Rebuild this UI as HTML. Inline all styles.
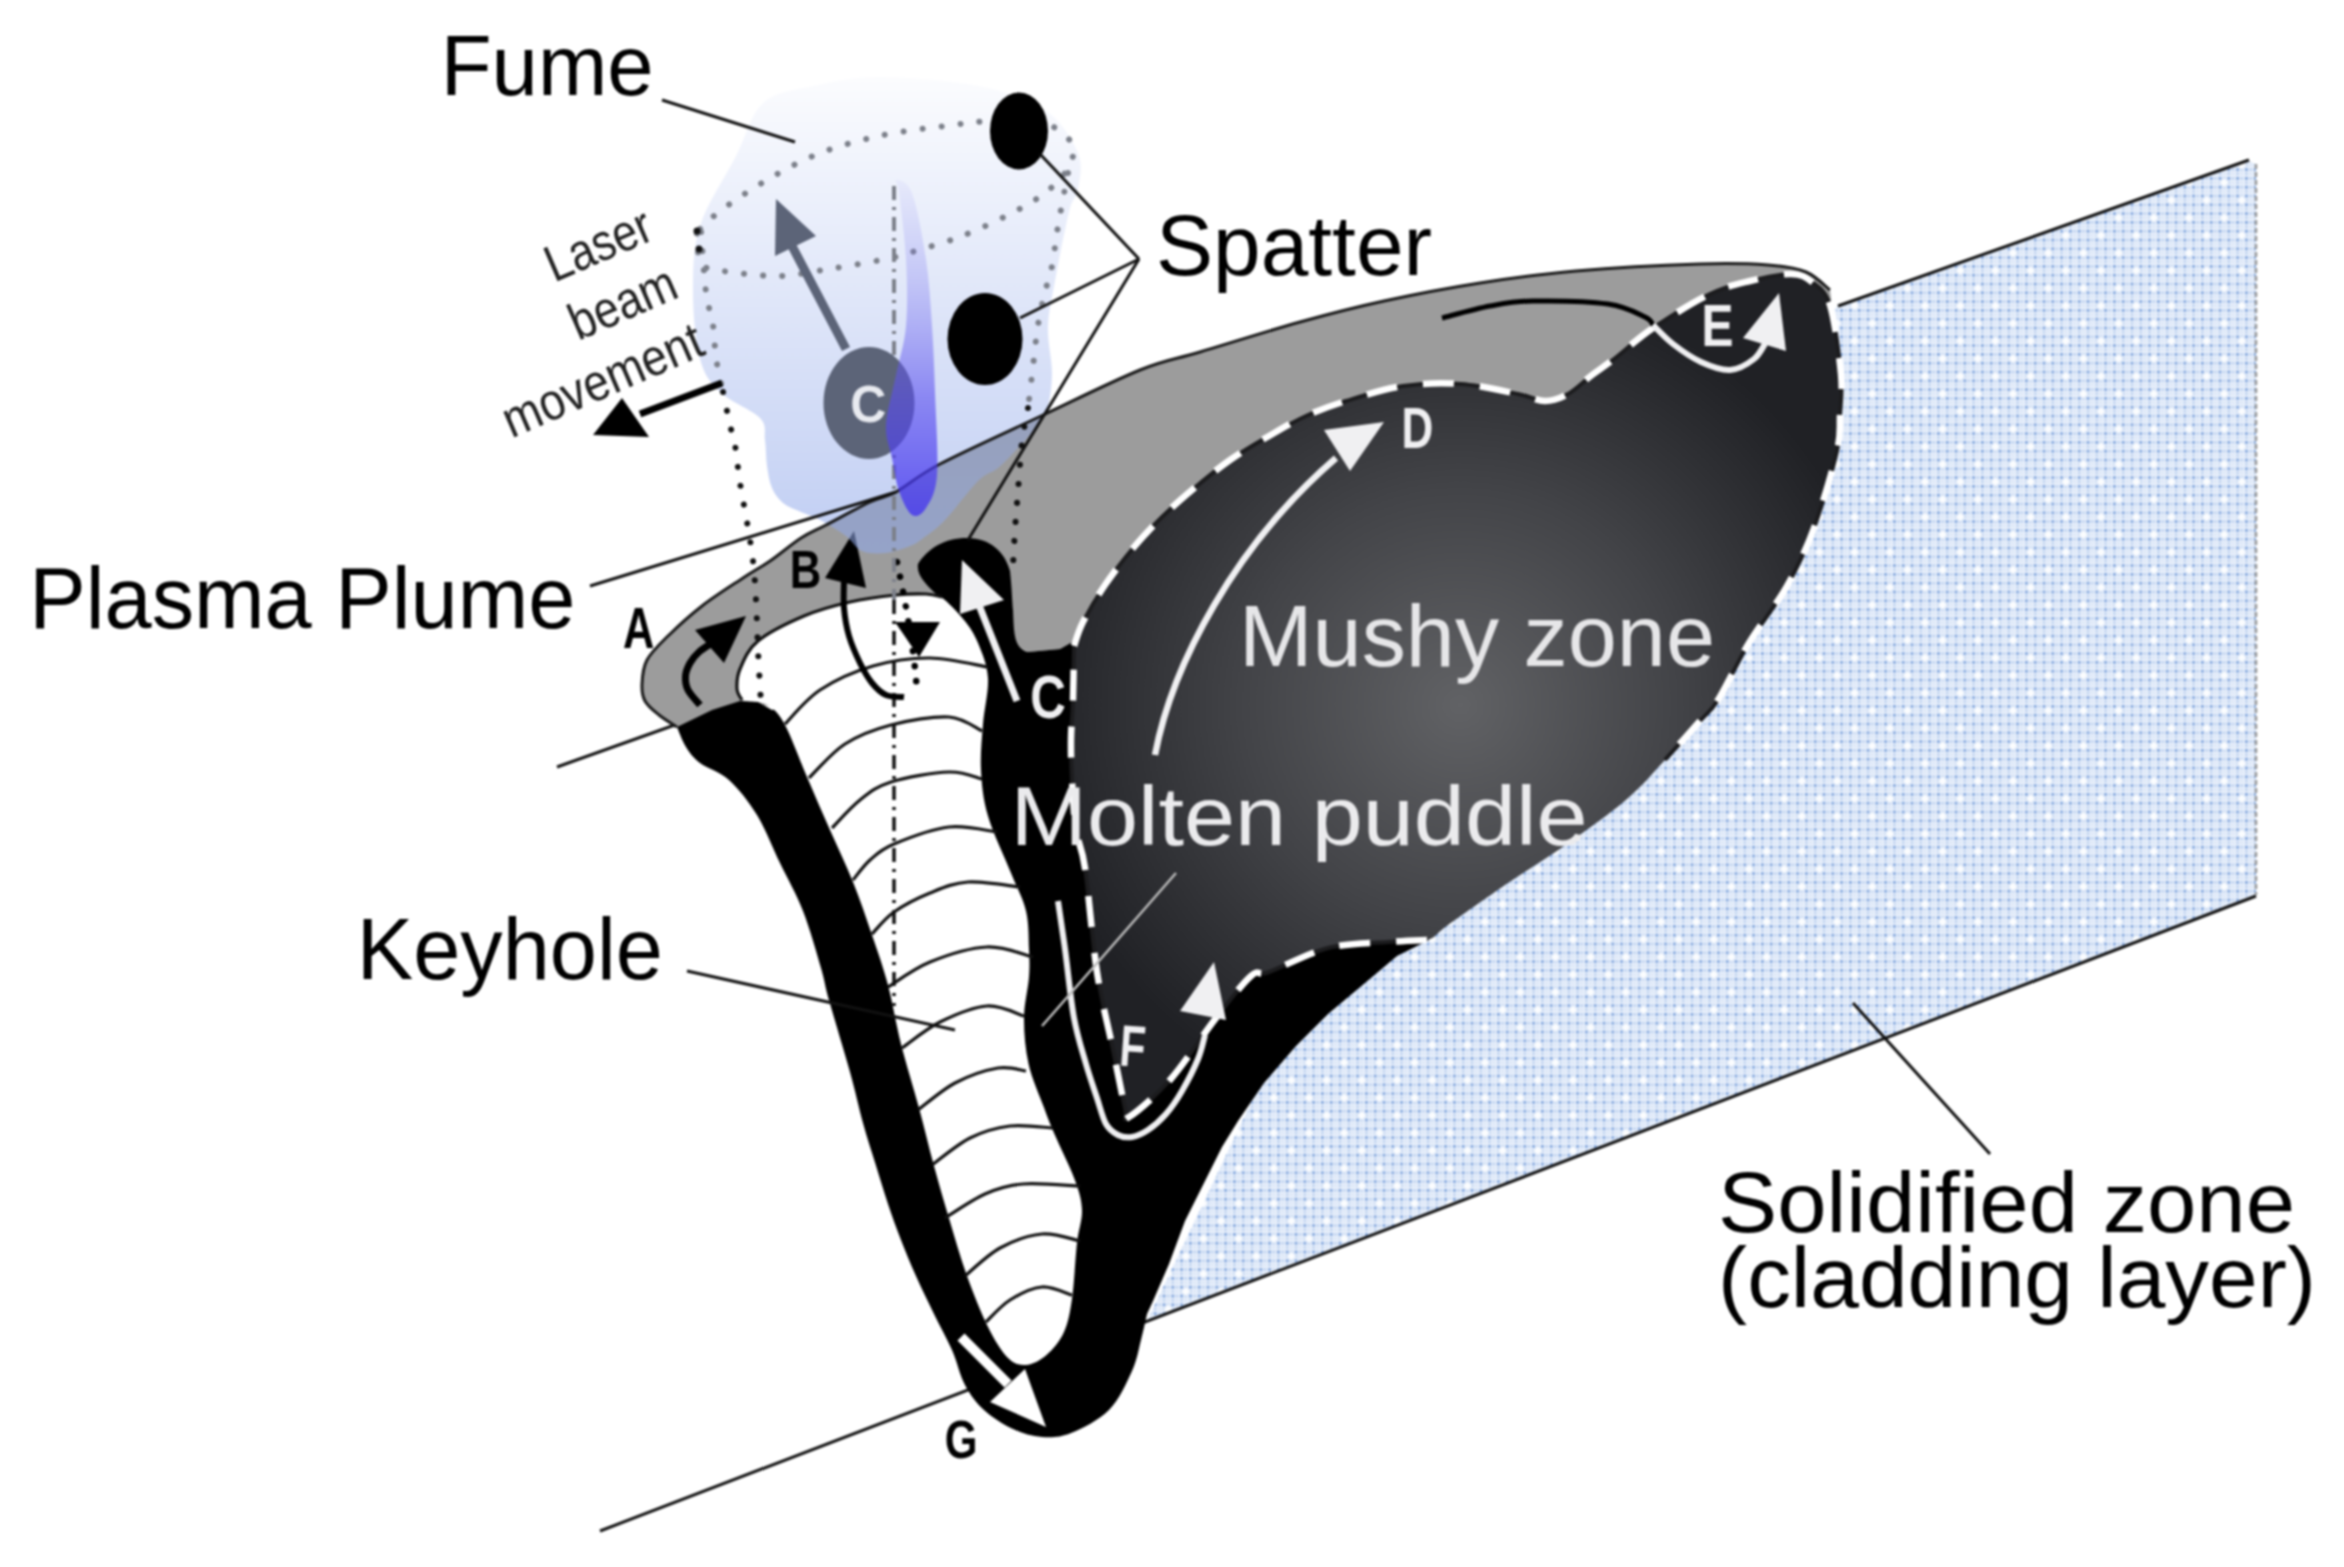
<!DOCTYPE html>
<html><head><meta charset="utf-8"><style>
html,body{margin:0;padding:0;background:#fff;width:2344px;height:1567px;overflow:hidden}
svg{display:block;filter:blur(0.8px)}
text{font-family:"Liberation Sans",sans-serif}
</style></head><body>
<svg width="2344" height="1567" viewBox="0 0 2344 1567">
<defs>
<pattern id="dots" x="0" y="0" width="35.2" height="35.2" patternUnits="userSpaceOnUse"><rect width="35.2" height="35.2" fill="#e9f0fb"/><rect x="0.9" y="0.9" width="3" height="3" fill="#86a9de"/><rect x="5.5" y="1.3" width="2.2" height="2.2" fill="#aac4ea"/><rect x="1.3" y="5.5" width="2.2" height="2.2" fill="#aac4ea"/><rect x="5.6" y="5.6" width="2" height="2" fill="#d2e0f4"/><rect x="9.7" y="0.9" width="3" height="3" fill="#86a9de"/><rect x="14.3" y="1.3" width="2.2" height="2.2" fill="#aac4ea"/><rect x="10.1" y="5.5" width="2.2" height="2.2" fill="#aac4ea"/><rect x="14.4" y="5.6" width="2" height="2" fill="#d2e0f4"/><rect x="18.5" y="0.9" width="3" height="3" fill="#86a9de"/><rect x="23.1" y="1.3" width="2.2" height="2.2" fill="#aac4ea"/><rect x="18.9" y="5.5" width="2.2" height="2.2" fill="#aac4ea"/><rect x="23.2" y="5.6" width="2" height="2" fill="#d2e0f4"/><rect x="27.3" y="0.9" width="3" height="3" fill="#86a9de"/><rect x="31.9" y="1.3" width="2.2" height="2.2" fill="#aac4ea"/><rect x="27.7" y="5.5" width="2.2" height="2.2" fill="#aac4ea"/><rect x="32.0" y="5.6" width="2" height="2" fill="#d2e0f4"/><rect x="0.9" y="9.7" width="3" height="3" fill="#86a9de"/><rect x="5.5" y="10.1" width="2.2" height="2.2" fill="#aac4ea"/><rect x="1.3" y="14.3" width="2.2" height="2.2" fill="#aac4ea"/><rect x="5.6" y="14.4" width="2" height="2" fill="#d2e0f4"/><rect x="9.7" y="9.7" width="3" height="3" fill="#86a9de"/><rect x="14.3" y="10.1" width="2.2" height="2.2" fill="#aac4ea"/><rect x="10.1" y="14.3" width="2.2" height="2.2" fill="#aac4ea"/><rect x="14.4" y="14.4" width="2" height="2" fill="#d2e0f4"/><rect x="18.5" y="9.7" width="3" height="3" fill="#86a9de"/><rect x="23.1" y="10.1" width="2.2" height="2.2" fill="#aac4ea"/><rect x="18.9" y="14.3" width="2.2" height="2.2" fill="#aac4ea"/><rect x="23.2" y="14.4" width="2" height="2" fill="#d2e0f4"/><rect x="27.3" y="9.7" width="3" height="3" fill="#86a9de"/><rect x="31.9" y="10.1" width="2.2" height="2.2" fill="#aac4ea"/><rect x="27.7" y="14.3" width="2.2" height="2.2" fill="#aac4ea"/><rect x="32.0" y="14.4" width="2" height="2" fill="#d2e0f4"/><rect x="0.9" y="18.5" width="3" height="3" fill="#86a9de"/><rect x="5.5" y="18.9" width="2.2" height="2.2" fill="#aac4ea"/><rect x="1.3" y="23.1" width="2.2" height="2.2" fill="#aac4ea"/><rect x="5.6" y="23.2" width="2" height="2" fill="#d2e0f4"/><rect x="9.7" y="18.5" width="3" height="3" fill="#86a9de"/><rect x="14.3" y="18.9" width="2.2" height="2.2" fill="#aac4ea"/><rect x="10.1" y="23.1" width="2.2" height="2.2" fill="#aac4ea"/><rect x="14.4" y="23.2" width="2" height="2" fill="#d2e0f4"/><rect x="18.5" y="18.5" width="3" height="3" fill="#86a9de"/><rect x="23.1" y="18.9" width="2.2" height="2.2" fill="#aac4ea"/><rect x="18.9" y="23.1" width="2.2" height="2.2" fill="#aac4ea"/><rect x="23.2" y="23.2" width="2" height="2" fill="#d2e0f4"/><rect x="27.3" y="18.5" width="3" height="3" fill="#86a9de"/><rect x="31.9" y="18.9" width="2.2" height="2.2" fill="#aac4ea"/><rect x="27.7" y="23.1" width="2.2" height="2.2" fill="#aac4ea"/><rect x="32.0" y="23.2" width="2" height="2" fill="#d2e0f4"/><rect x="0.9" y="27.3" width="3" height="3" fill="#86a9de"/><rect x="5.5" y="27.7" width="2.2" height="2.2" fill="#aac4ea"/><rect x="1.3" y="31.9" width="2.2" height="2.2" fill="#aac4ea"/><rect x="5.6" y="32.0" width="2" height="2" fill="#d2e0f4"/><rect x="9.7" y="27.3" width="3" height="3" fill="#86a9de"/><rect x="14.3" y="27.7" width="2.2" height="2.2" fill="#aac4ea"/><rect x="10.1" y="31.9" width="2.2" height="2.2" fill="#aac4ea"/><rect x="14.4" y="32.0" width="2" height="2" fill="#d2e0f4"/><rect x="18.5" y="27.3" width="3" height="3" fill="#86a9de"/><rect x="23.1" y="27.7" width="2.2" height="2.2" fill="#aac4ea"/><rect x="18.9" y="31.9" width="2.2" height="2.2" fill="#aac4ea"/><rect x="23.2" y="32.0" width="2" height="2" fill="#d2e0f4"/><rect x="27.3" y="27.3" width="3" height="3" fill="#86a9de"/><rect x="31.9" y="27.7" width="2.2" height="2.2" fill="#aac4ea"/><rect x="27.7" y="31.9" width="2.2" height="2.2" fill="#aac4ea"/><rect x="32.0" y="32.0" width="2" height="2" fill="#d2e0f4"/><rect x="5.3" y="2.6" width="2.6" height="8" fill="#fdfeff"/><rect x="2.6" y="5.3" width="8" height="2.6" fill="#fdfeff"/><rect x="22.9" y="20.2" width="2.6" height="8" fill="#fdfeff"/><rect x="20.2" y="22.9" width="8" height="2.6" fill="#fdfeff"/></pattern>
<radialGradient id="pud" cx="1460" cy="705" r="430" gradientUnits="userSpaceOnUse">
<stop offset="0" stop-color="#616265"/>
<stop offset="0.5" stop-color="#434448"/>
<stop offset="1" stop-color="#202125"/>
</radialGradient>
<linearGradient id="fume" x1="0" y1="75" x2="0" y2="555" gradientUnits="userSpaceOnUse">
<stop offset="0" stop-color="#90a8ea" stop-opacity="0.03"/>
<stop offset="0.2" stop-color="#90a8ea" stop-opacity="0.14"/>
<stop offset="0.5" stop-color="#90a8ea" stop-opacity="0.3"/>
<stop offset="0.8" stop-color="#90a8ea" stop-opacity="0.46"/>
<stop offset="1" stop-color="#90a8ea" stop-opacity="0.58"/>
</linearGradient>
<linearGradient id="plasma" x1="0" y1="180" x2="0" y2="515" gradientUnits="userSpaceOnUse">
<stop offset="0" stop-color="#8a88f0" stop-opacity="0.08"/>
<stop offset="0.3" stop-color="#7a74f0" stop-opacity="0.3"/>
<stop offset="0.65" stop-color="#5a4ef0" stop-opacity="0.6"/>
<stop offset="1" stop-color="#4232f0" stop-opacity="0.78"/>
</linearGradient>
</defs>
<rect width="2344" height="1567" fill="#fff"/>
<path d="M1838,305 L2249,161 L2256,164 L2256,896 L1147,1321 L1300,1000 L1700,600 L1800,350 Z" fill="url(#dots)"/>
<g stroke="#111" stroke-width="3" fill="none"><line x1="557" y1="767" x2="700" y2="716"/><line x1="1838" y1="306" x2="2249" y2="160"/><line x1="600" y1="1531" x2="2256" y2="896"/></g>
<line x1="2256" y1="164" x2="2256" y2="895" stroke="#999" stroke-width="2.5" stroke-dasharray="5,3"/>
<path d="M677.0,727.0 C674.0,725.0 664.3,719.3 659.0,715.0 C653.7,710.7 647.8,706.2 645.0,701.0 C642.2,695.8 641.7,690.8 642.0,684.0 C642.3,677.2 642.7,668.0 647.0,660.0 C651.3,652.0 658.8,645.0 668.0,636.0 C677.2,627.0 689.5,615.7 702.0,606.0 C714.5,596.3 731.7,585.5 743.0,578.0 C754.3,570.5 760.3,567.7 770.0,561.0 C779.7,554.3 791.7,544.0 801.0,538.0 C810.3,532.0 814.5,531.0 826.0,525.0 C837.5,519.0 858.3,507.5 870.0,502.0 C881.7,496.5 884.3,498.3 896.0,492.0 C907.7,485.7 915.8,476.7 940.0,464.0 C964.2,451.3 1007.7,431.7 1041.0,416.0 C1074.3,400.3 1113.5,380.7 1140.0,370.0 C1166.5,359.3 1173.3,360.0 1200.0,352.0 C1226.7,344.0 1269.3,330.5 1300.0,322.0 C1330.7,313.5 1354.0,307.5 1384.0,301.0 C1414.0,294.5 1448.0,288.0 1480.0,283.0 C1512.0,278.0 1539.3,274.2 1576.0,271.0 C1612.7,267.8 1668.0,265.0 1700.0,264.0 C1732.0,263.0 1750.3,263.7 1768.0,265.0 C1785.7,266.3 1795.7,267.8 1806.0,272.0 C1816.3,276.2 1826.0,287.0 1830.0,290.0 L1841,374 L1841,420 L1083,622 L1074,641 L1060,649 L1028,652 L1014,645 L1012,605 L1000,720 L760,705 L677,728 Z" fill="#9c9c9c"/>
<path d="M677.0,727.0 L712.0,710.0 L740.0,701.0 L758.0,702.0 L772.0,710.0 L960,650 L940,598 C928,586 916,576 918,564 C928,548 945,538 967,538 C990,538 1005,552 1010,571 C1012,590 1012,600 1013,610 C1014,635 1014,648 1028,652 L1060,649 L1074,641 L1300,800 L1429,940 L1397,956 L1365,983 L1328,1014 L1296,1046 L1264,1083 L1238,1121 L1222,1147 L1206,1179 L1185,1221 L1169,1264 L1153,1301 L1147.0,1314.0 C1146.0,1318.3 1143.5,1330.5 1141.0,1340.0 C1138.5,1349.5 1137.3,1359.3 1132.0,1371.0 C1126.7,1382.7 1119.2,1399.7 1109.0,1410.0 C1098.8,1420.3 1082.2,1428.5 1071.0,1433.0 C1059.8,1437.5 1051.7,1437.7 1042.0,1437.0 C1032.3,1436.3 1022.7,1433.5 1013.0,1429.0 C1003.3,1424.5 992.0,1417.3 984.0,1410.0 C976.0,1402.7 970.3,1395.0 965.0,1385.0 C959.7,1375.0 957.2,1361.8 952.0,1350.0 C946.8,1338.2 940.0,1326.3 934.0,1314.0 C928.0,1301.7 921.5,1288.3 916.0,1276.0 C910.5,1263.7 905.7,1252.0 901.0,1240.0 C896.3,1228.0 892.2,1216.7 888.0,1204.0 C883.8,1191.3 879.7,1177.5 875.5,1164.0 C871.3,1150.5 867.2,1138.3 863.0,1123.0 C858.8,1107.7 855.7,1092.5 850.0,1072.0 C844.3,1051.5 833.8,1017.3 829.0,1000.0 C824.2,982.7 825.3,982.8 821.0,968.0 C816.7,953.2 809.8,928.5 803.0,911.0 C796.2,893.5 787.7,879.0 780.0,863.0 C772.3,847.0 765.5,828.8 757.0,815.0 C748.5,801.2 738.5,788.7 729.0,780.0 C719.5,771.3 707.2,768.5 700.0,763.0 C692.8,757.5 689.8,753.0 686.0,747.0 C682.2,741.0 678.5,730.3 677.0,727.0" fill="#000"/>
<path id="puddle" d="M1074.0,646.0 C1075.7,633.0 1077.8,632.2 1083.0,622.0 C1088.2,611.8 1096.5,597.5 1105.0,585.0 C1113.5,572.5 1124.5,558.3 1134.0,547.0 C1143.5,535.7 1152.3,526.5 1162.0,517.0 C1171.7,507.5 1180.7,499.5 1192.0,490.0 C1203.3,480.5 1217.2,469.0 1230.0,460.0 C1242.8,451.0 1256.3,443.3 1269.0,436.0 C1281.7,428.7 1293.2,421.8 1306.0,416.0 C1318.8,410.2 1329.8,406.0 1346.0,401.0 C1362.2,396.0 1383.8,388.8 1403.0,386.0 C1422.2,383.2 1441.8,382.7 1461.0,384.0 C1480.2,385.3 1504.0,391.2 1518.0,394.0 C1532.0,396.8 1536.7,401.0 1545.0,401.0 C1553.3,401.0 1560.2,398.3 1568.0,394.0 C1575.8,389.7 1584.3,380.8 1592.0,375.0 C1599.7,369.2 1603.8,366.8 1614.0,359.0 C1624.2,351.2 1637.0,338.8 1653.0,328.0 C1669.0,317.2 1693.8,301.8 1710.0,294.0 C1726.2,286.2 1736.5,284.3 1750.0,281.0 C1763.5,277.7 1780.7,273.8 1791.0,274.0 C1801.3,274.2 1805.5,276.8 1812.0,282.0 C1818.5,287.2 1825.2,289.7 1830.0,305.0 C1834.8,320.3 1839.3,355.7 1841.0,374.0 C1842.7,392.3 1840.7,402.2 1840.0,415.0 C1839.3,427.8 1841.3,432.2 1837.0,451.0 C1832.7,469.8 1822.3,505.5 1814.0,528.0 C1805.7,550.5 1797.8,566.8 1787.0,586.0 C1776.2,605.2 1760.5,624.0 1749.0,643.0 C1737.5,662.0 1726.2,687.0 1718.0,700.0 C1709.8,713.0 1708.8,711.0 1700.0,721.0 C1691.2,731.0 1677.2,747.0 1665.0,760.0 C1652.8,773.0 1643.3,785.0 1627.0,799.0 C1610.7,813.0 1586.8,830.0 1567.0,844.0 C1547.2,858.0 1527.8,869.5 1508.0,883.0 C1488.2,896.5 1461.5,915.5 1448.0,925.0 C1434.5,934.5 1437.0,937.2 1427.0,940.0 C1417.0,942.8 1404.5,940.7 1388.0,942.0 C1371.5,943.3 1347.8,943.0 1328.0,948.0 C1308.2,953.0 1281.8,967.3 1269.0,972.0 C1256.2,976.7 1259.8,968.3 1251.0,976.0 C1242.2,983.7 1229.5,1000.7 1216.0,1018.0 C1202.5,1035.3 1184.5,1063.5 1170.0,1080.0 C1155.5,1096.5 1136.5,1112.3 1129.0,1117.0 C1121.5,1121.7 1127.8,1120.0 1125.0,1108.0 C1122.2,1096.0 1116.7,1067.7 1112.0,1045.0 C1107.3,1022.3 1101.5,1001.5 1097.0,972.0 C1092.5,942.5 1088.5,891.7 1085.0,868.0 C1081.5,844.3 1078.2,844.7 1076.0,830.0 C1073.8,815.3 1072.8,795.2 1072.0,780.0 C1071.2,764.8 1070.8,752.3 1071.0,739.0 C1071.2,725.7 1072.5,715.5 1073.0,700.0 C1073.5,684.5 1072.3,659.0 1074.0,646.0 Z" fill="url(#pud)"/>
<path d="M737.0,689.0 C736.7,683.8 736.5,677.0 740.0,669.0 C743.5,661.0 747.3,649.8 758.0,641.0 C768.7,632.2 788.7,622.5 804.0,616.0 C819.3,609.5 834.7,605.5 850.0,602.0 C865.3,598.5 883.3,596.3 896.0,595.0 C908.7,593.7 918.5,593.7 926.0,594.0 C933.5,594.3 934.7,592.7 941.0,597.0 C947.3,601.3 957.8,612.3 964.0,620.0 C970.2,627.7 974.0,633.3 978.0,643.0 C982.0,652.7 987.2,664.5 988.0,678.0 C988.8,691.5 984.2,708.7 983.0,724.0 C981.8,739.3 980.2,754.7 981.0,770.0 C981.8,785.3 983.0,798.8 988.0,816.0 C993.0,833.2 1004.7,857.2 1011.0,873.0 C1017.3,888.8 1023.0,898.3 1026.0,911.0 C1029.0,923.7 1028.5,938.0 1029.0,949.0 C1029.5,960.0 1029.8,965.5 1029.0,977.0 C1028.2,988.5 1024.1,1003.5 1024.0,1018.0 C1023.9,1032.5 1025.3,1049.1 1028.6,1064.0 C1031.9,1078.9 1039.8,1096.1 1044.0,1107.6 C1048.2,1119.1 1048.9,1121.1 1054.0,1133.0 C1059.1,1144.9 1069.8,1166.2 1074.5,1179.0 C1079.2,1191.8 1081.6,1199.3 1082.0,1210.0 C1082.4,1220.7 1078.7,1228.2 1077.0,1243.0 C1075.3,1257.8 1074.2,1284.2 1072.0,1299.0 C1069.8,1313.8 1068.2,1322.7 1064.0,1332.0 C1059.8,1341.3 1052.8,1349.5 1046.5,1355.0 C1040.2,1360.5 1032.4,1364.5 1026.0,1365.0 C1019.6,1365.5 1014.3,1364.3 1008.0,1358.0 C1001.7,1351.7 994.8,1340.7 988.0,1327.0 C981.2,1313.3 973.4,1293.8 967.0,1276.0 C960.6,1258.2 955.0,1238.3 949.5,1220.0 C944.0,1201.7 939.1,1184.7 934.0,1166.0 C928.9,1147.3 924.5,1128.3 919.0,1108.0 C913.5,1087.7 906.2,1064.5 901.0,1044.0 C895.8,1023.5 892.8,1003.2 888.0,985.0 C883.2,966.8 877.8,952.2 872.0,935.0 C866.2,917.8 860.0,899.5 853.0,882.0 C846.0,864.5 837.7,847.5 830.0,830.0 C822.3,812.5 814.3,794.2 807.0,777.0 C799.7,759.8 791.8,738.5 786.0,727.0 C780.2,715.5 776.7,712.2 772.0,708.0 C767.3,703.8 763.0,703.3 758.0,702.0 C753.0,700.7 745.5,702.2 742.0,700.0 C738.5,697.8 737.3,694.2 737.0,689.0 Z" fill="#fff"/>
<g fill="none" stroke="#111" stroke-width="3.2"><path d="M785.0,724.0 C790.8,718.3 805.3,699.7 820.0,690.0 C834.7,680.3 854.7,671.3 873.0,666.0 C891.3,660.7 910.8,657.8 930.0,658.0 C949.2,658.2 978.3,665.5 988.0,667.0"/><path d="M809.0,778.0 C815.0,772.3 831.3,752.8 845.0,744.0 C858.7,735.2 873.7,729.5 891.0,725.0 C908.3,720.5 933.8,716.0 949.0,717.0 C964.2,718.0 976.5,728.7 982.0,731.0"/><path d="M832.0,828.0 C836.7,823.3 850.2,807.7 860.0,800.0 C869.8,792.3 876.2,786.7 891.0,782.0 C905.8,777.3 933.8,772.5 949.0,772.0 C964.2,771.5 976.5,777.8 982.0,779.0"/><path d="M853.0,880.0 C855.8,876.7 863.2,866.0 870.0,860.0 C876.8,854.0 880.8,849.5 894.0,844.0 C907.2,838.5 931.8,829.0 949.0,827.0 C966.2,825.0 989.0,831.2 997.0,832.0"/><path d="M872.0,934.0 C875.7,930.3 884.3,918.8 894.0,912.0 C903.7,905.2 917.7,898.0 930.0,893.0 C942.3,888.0 953.0,883.0 968.0,882.0 C983.0,881.0 1011.3,886.2 1020.0,887.0"/><path d="M888.0,987.0 C895.0,982.8 913.5,968.7 930.0,962.0 C946.5,955.3 969.8,947.8 987.0,947.0 C1004.2,946.2 1025.3,955.3 1033.0,957.0"/><path d="M902.0,1048.0 C908.3,1043.7 925.8,1029.0 940.0,1022.0 C954.2,1015.0 973.0,1007.0 987.0,1006.0 C1001.0,1005.0 1017.8,1014.3 1024.0,1016.0"/><path d="M918.0,1110.0 C924.2,1105.5 941.7,1090.0 955.0,1083.0 C968.3,1076.0 986.2,1070.0 998.0,1068.0 C1009.8,1066.0 1021.3,1070.5 1026.0,1071.0"/><path d="M932.0,1165.0 C938.3,1160.5 957.0,1144.5 970.0,1138.0 C983.0,1131.5 996.2,1127.7 1010.0,1126.0 C1023.8,1124.3 1045.8,1127.7 1053.0,1128.0"/><path d="M945.0,1218.0 C951.7,1214.0 972.0,1199.7 985.0,1194.0 C998.0,1188.3 1007.2,1185.3 1023.0,1184.0 C1038.8,1182.7 1070.5,1185.7 1080.0,1186.0"/><path d="M965.0,1276.0 C970.8,1271.3 987.2,1255.0 1000.0,1248.0 C1012.8,1241.0 1028.7,1235.2 1042.0,1234.0 C1055.3,1232.8 1073.7,1239.8 1080.0,1241.0"/><path d="M986.0,1322.0 C990.0,1318.3 1000.7,1305.8 1010.0,1300.0 C1019.3,1294.2 1031.7,1287.8 1042.0,1287.0 C1052.3,1286.2 1067.0,1293.7 1072.0,1295.0"/></g>
<path d="M742.0,700.0 C741.2,698.2 737.3,694.2 737.0,689.0 C736.7,683.8 736.5,677.0 740.0,669.0 C743.5,661.0 747.3,649.8 758.0,641.0 C768.7,632.2 788.7,622.5 804.0,616.0 C819.3,609.5 834.7,605.5 850.0,602.0 C865.3,598.5 883.3,596.3 896.0,595.0 C908.7,593.7 918.3,593.7 926.0,594.0 C933.7,594.3 939.3,596.5 942.0,597.0" fill="none" stroke="#111" stroke-width="3.2"/>
<line x1="894" y1="600" x2="894" y2="1006" stroke="#111" stroke-width="3.5" stroke-dasharray="14,7,3,7"/>
<path d="M1074.0,646.0 C1075.5,642.0 1077.8,632.2 1083.0,622.0 C1088.2,611.8 1096.5,597.5 1105.0,585.0 C1113.5,572.5 1124.5,558.3 1134.0,547.0 C1143.5,535.7 1152.3,526.5 1162.0,517.0 C1171.7,507.5 1180.7,499.5 1192.0,490.0 C1203.3,480.5 1217.2,469.0 1230.0,460.0 C1242.8,451.0 1256.3,443.3 1269.0,436.0 C1281.7,428.7 1293.2,421.8 1306.0,416.0 C1318.8,410.2 1329.8,406.0 1346.0,401.0 C1362.2,396.0 1383.8,388.8 1403.0,386.0 C1422.2,383.2 1441.8,382.7 1461.0,384.0 C1480.2,385.3 1504.0,391.2 1518.0,394.0 C1532.0,396.8 1536.7,401.0 1545.0,401.0 C1553.3,401.0 1560.2,398.3 1568.0,394.0 C1575.8,389.7 1584.3,380.8 1592.0,375.0 C1599.7,369.2 1603.8,366.8 1614.0,359.0 C1624.2,351.2 1637.0,338.8 1653.0,328.0 C1669.0,317.2 1693.8,301.8 1710.0,294.0 C1726.2,286.2 1736.5,284.3 1750.0,281.0 C1763.5,277.7 1780.7,273.8 1791.0,274.0 C1801.3,274.2 1805.5,276.8 1812.0,282.0 C1818.5,287.2 1825.2,289.7 1830.0,305.0 C1834.8,320.3 1839.3,355.7 1841.0,374.0 C1842.7,392.3 1840.7,402.2 1840.0,415.0 C1839.3,427.8 1841.3,432.2 1837.0,451.0 C1832.7,469.8 1822.3,505.5 1814.0,528.0 C1805.7,550.5 1797.8,566.8 1787.0,586.0 C1776.2,605.2 1760.5,624.0 1749.0,643.0 C1737.5,662.0 1726.2,687.0 1718.0,700.0 C1709.8,713.0 1708.8,711.0 1700.0,721.0 C1691.2,731.0 1670.8,753.5 1665.0,760.0" fill="none" stroke="#1c1c1e" stroke-width="4"/>
<path d="M1074.0,646.0 C1075.5,642.0 1077.8,632.2 1083.0,622.0 C1088.2,611.8 1096.5,597.5 1105.0,585.0 C1113.5,572.5 1124.5,558.3 1134.0,547.0 C1143.5,535.7 1152.3,526.5 1162.0,517.0 C1171.7,507.5 1180.7,499.5 1192.0,490.0 C1203.3,480.5 1217.2,469.0 1230.0,460.0 C1242.8,451.0 1256.3,443.3 1269.0,436.0 C1281.7,428.7 1293.2,421.8 1306.0,416.0 C1318.8,410.2 1329.8,406.0 1346.0,401.0 C1362.2,396.0 1383.8,388.8 1403.0,386.0 C1422.2,383.2 1441.8,382.7 1461.0,384.0 C1480.2,385.3 1504.0,391.2 1518.0,394.0 C1532.0,396.8 1536.7,401.0 1545.0,401.0 C1553.3,401.0 1560.2,398.3 1568.0,394.0 C1575.8,389.7 1584.3,380.8 1592.0,375.0 C1599.7,369.2 1603.8,366.8 1614.0,359.0 C1624.2,351.2 1637.0,338.8 1653.0,328.0 C1669.0,317.2 1693.8,301.8 1710.0,294.0 C1726.2,286.2 1736.5,284.3 1750.0,281.0 C1763.5,277.7 1780.7,273.8 1791.0,274.0 C1801.3,274.2 1805.5,276.8 1812.0,282.0 C1818.5,287.2 1825.2,289.7 1830.0,305.0 C1834.8,320.3 1839.3,355.7 1841.0,374.0 C1842.7,392.3 1840.7,402.2 1840.0,415.0 C1839.3,427.8 1841.3,432.2 1837.0,451.0 C1832.7,469.8 1822.3,505.5 1814.0,528.0 C1805.7,550.5 1797.8,566.8 1787.0,586.0 C1776.2,605.2 1760.5,624.0 1749.0,643.0 C1737.5,662.0 1726.2,687.0 1718.0,700.0 C1709.8,713.0 1708.8,711.0 1700.0,721.0 C1691.2,731.0 1670.8,753.5 1665.0,760.0" fill="none" stroke="#fff" stroke-width="6.5" stroke-dasharray="31,26"/>
<path d="M1427.0,940.0 C1420.5,940.3 1404.5,940.7 1388.0,942.0 C1371.5,943.3 1347.8,943.0 1328.0,948.0 C1308.2,953.0 1281.8,967.3 1269.0,972.0 C1256.2,976.7 1259.8,968.3 1251.0,976.0 C1242.2,983.7 1229.5,1000.7 1216.0,1018.0 C1202.5,1035.3 1184.5,1063.5 1170.0,1080.0 C1155.5,1096.5 1136.5,1112.3 1129.0,1117.0 C1121.5,1121.7 1127.8,1120.0 1125.0,1108.0 C1122.2,1096.0 1116.7,1067.7 1112.0,1045.0 C1107.3,1022.3 1101.5,1001.5 1097.0,972.0 C1092.5,942.5 1088.5,891.7 1085.0,868.0 C1081.5,844.3 1078.2,844.7 1076.0,830.0 C1073.8,815.3 1072.8,795.2 1072.0,780.0 C1071.2,764.8 1070.8,752.3 1071.0,739.0 C1071.2,725.7 1072.5,715.5 1073.0,700.0 C1073.5,684.5 1073.8,655.0 1074.0,646.0" fill="none" stroke="#1c1c1e" stroke-width="4"/>
<path d="M1427.0,940.0 C1420.5,940.3 1404.5,940.7 1388.0,942.0 C1371.5,943.3 1347.8,943.0 1328.0,948.0 C1308.2,953.0 1281.8,967.3 1269.0,972.0 C1256.2,976.7 1259.8,968.3 1251.0,976.0 C1242.2,983.7 1229.5,1000.7 1216.0,1018.0 C1202.5,1035.3 1184.5,1063.5 1170.0,1080.0 C1155.5,1096.5 1136.5,1112.3 1129.0,1117.0 C1121.5,1121.7 1127.8,1120.0 1125.0,1108.0 C1122.2,1096.0 1116.7,1067.7 1112.0,1045.0 C1107.3,1022.3 1101.5,1001.5 1097.0,972.0 C1092.5,942.5 1088.5,891.7 1085.0,868.0 C1081.5,844.3 1078.2,844.7 1076.0,830.0 C1073.8,815.3 1072.8,795.2 1072.0,780.0 C1071.2,764.8 1070.8,752.3 1071.0,739.0 C1071.2,725.7 1072.5,715.5 1073.0,700.0 C1073.5,684.5 1073.8,655.0 1074.0,646.0" fill="none" stroke="#fff" stroke-width="6.5" stroke-dasharray="31,26"/>
<path d="M1442.0,318.0 C1450.0,316.0 1474.8,308.8 1490.0,306.0 C1505.2,303.2 1513.3,301.3 1533.0,301.0 C1552.7,300.7 1589.3,301.3 1608.0,304.0 C1626.7,306.7 1637.5,313.5 1645.0,317.0 C1652.5,320.5 1651.7,323.7 1653.0,325.0" fill="none" stroke="#000" stroke-width="5"/>
<path d="M1155,755 C1172,665 1235,545 1336,458" fill="none" stroke="#f0f0f2" stroke-width="6.5"/>
<path d="M1384,422 L1324,430 L1350,471 Z" fill="#f0f0f2"/>
<path d="M1653.0,325.0 C1656.3,328.2 1665.0,337.8 1673.0,344.0 C1681.0,350.2 1691.5,357.7 1701.0,362.0 C1710.5,366.3 1721.2,370.5 1730.0,370.0 C1738.8,369.5 1748.0,363.7 1754.0,359.0 C1760.0,354.3 1764.0,344.8 1766.0,342.0" fill="none" stroke="#f0f0f2" stroke-width="6"/>
<path d="M1779,293 L1743,338 L1786,351 Z" fill="#f0f0f2"/>
<path d="M1058.0,901.0 C1059.2,909.0 1062.3,929.5 1065.0,949.0 C1067.7,968.5 1070.5,998.8 1074.0,1018.0 C1077.5,1037.2 1082.2,1050.7 1086.0,1064.0 C1089.8,1077.3 1093.7,1088.0 1097.0,1098.0 C1100.3,1108.0 1102.5,1117.8 1106.0,1124.0 C1109.5,1130.2 1113.7,1132.8 1118.0,1135.0 C1122.3,1137.2 1127.0,1137.8 1132.0,1137.0 C1137.0,1136.2 1142.3,1133.8 1148.0,1130.0 C1153.7,1126.2 1160.3,1120.5 1166.0,1114.0 C1171.7,1107.5 1176.7,1100.2 1182.0,1091.0 C1187.3,1081.8 1194.2,1068.3 1198.0,1059.0 C1201.8,1049.7 1203.8,1039.0 1205.0,1035.0" fill="none" stroke="#f0f0f2" stroke-width="6"/>
<path d="M1214,962 L1180,1011 L1226,1020 Z" fill="#f0f0f2"/>
<path d="M1017,701 L975,595" fill="none" stroke="#f0f0f2" stroke-width="7"/>
<path d="M962,560 L960,614 L1004,600 Z" fill="#f0f0f2"/>
<path d="M961,1337 L1008,1384" fill="none" stroke="#fff" stroke-width="10"/>
<path d="M1046,1427 L990,1402 L1025,1369 Z" fill="#fff"/>
<path d="M700.0,705.0 C698.0,702.5 690.4,694.8 688.0,690.0 C685.6,685.2 685.2,680.5 685.5,676.0 C685.8,671.5 687.8,667.0 690.0,663.0 C692.2,659.0 695.3,655.3 699.0,652.0 C702.7,648.7 709.8,644.5 712.0,643.0" fill="none" stroke="#000" stroke-width="7"/>
<path d="M746,616 L695,630 L724,663 Z" fill="#000"/>
<path d="M904.0,697.0 C901.0,696.7 891.3,697.3 886.0,695.0 C880.7,692.7 876.3,688.3 872.0,683.0 C867.7,677.7 863.8,670.8 860.0,663.0 C856.2,655.2 851.7,645.2 849.0,636.0 C846.3,626.8 844.8,617.3 844.0,608.0 C843.2,598.7 844.0,584.7 844.0,580.0" fill="none" stroke="#000" stroke-width="6"/>
<path d="M854,531 L825,578 L866,588 Z" fill="#000"/>
<path d="M897,562 C905,600 913,640 917,690" fill="none" stroke="#000" stroke-width="6.5" stroke-linecap="round" stroke-dasharray="0.1,15"/>
<path d="M895,622 L940,622 L919,657 Z" fill="#000"/>
<path d="M763.0,103.0 C750.2,114.7 746.5,135.5 736.0,156.0 C725.5,176.5 707.2,203.3 700.0,226.0 C692.8,248.7 693.0,269.8 693.0,292.0 C693.0,314.2 695.5,342.3 700.0,359.0 C704.5,375.7 710.0,382.2 720.0,392.0 C730.0,401.8 752.5,410.0 760.0,418.0 C767.5,426.0 763.8,432.0 765.0,440.0 C766.2,448.0 765.8,458.0 767.0,466.0 C768.2,474.0 769.3,481.8 772.0,488.0 C774.7,494.2 778.2,499.0 783.0,503.0 C787.8,507.0 794.8,509.2 801.0,512.0 C807.2,514.8 812.5,516.0 820.0,520.0 C827.5,524.0 839.0,530.8 846.0,536.0 C853.0,541.2 855.3,548.2 862.0,551.0 C868.7,553.8 878.0,553.8 886.0,553.0 C894.0,552.2 904.0,548.3 910.0,546.0 C916.0,543.7 916.2,543.3 922.0,539.0 C927.8,534.7 935.7,529.7 945.0,520.0 C954.3,510.3 969.2,489.7 978.0,481.0 C986.8,472.3 991.3,473.5 998.0,468.0 C1004.7,462.5 1012.3,454.0 1018.0,448.0 C1023.7,442.0 1028.2,437.0 1032.0,432.0 C1035.8,427.0 1038.3,422.2 1041.0,418.0 C1043.7,413.8 1046.2,414.5 1048.0,407.0 C1049.8,399.5 1052.0,386.3 1052.0,373.0 C1052.0,359.7 1047.5,342.3 1048.0,327.0 C1048.5,311.7 1051.5,300.2 1055.0,281.0 C1058.5,261.8 1065.2,227.3 1069.0,212.0 C1072.8,196.7 1076.5,198.8 1078.0,189.0 C1079.5,179.2 1083.5,166.2 1078.0,153.0 C1072.5,139.8 1061.5,121.2 1045.0,110.0 C1028.5,98.8 1006.7,91.5 979.0,86.0 C951.3,80.5 906.7,77.0 879.0,77.0 C851.3,77.0 832.3,81.7 813.0,86.0 C793.7,90.3 775.8,91.3 763.0,103.0 Z" fill="url(#fume)"/>
<path d="M677.0,727.0 C674.0,725.0 664.3,719.3 659.0,715.0 C653.7,710.7 647.8,706.2 645.0,701.0 C642.2,695.8 641.7,690.8 642.0,684.0 C642.3,677.2 642.7,668.0 647.0,660.0 C651.3,652.0 658.8,645.0 668.0,636.0 C677.2,627.0 689.5,615.7 702.0,606.0 C714.5,596.3 731.7,585.5 743.0,578.0 C754.3,570.5 760.3,567.7 770.0,561.0 C779.7,554.3 791.7,544.0 801.0,538.0 C810.3,532.0 814.5,531.0 826.0,525.0 C837.5,519.0 858.3,507.5 870.0,502.0 C881.7,496.5 884.3,498.3 896.0,492.0 C907.7,485.7 915.8,476.7 940.0,464.0 C964.2,451.3 1007.7,431.7 1041.0,416.0 C1074.3,400.3 1113.5,380.7 1140.0,370.0 C1166.5,359.3 1173.3,360.0 1200.0,352.0 C1226.7,344.0 1269.3,330.5 1300.0,322.0 C1330.7,313.5 1354.0,307.5 1384.0,301.0 C1414.0,294.5 1448.0,288.0 1480.0,283.0 C1512.0,278.0 1539.3,274.2 1576.0,271.0 C1612.7,267.8 1668.0,265.0 1700.0,264.0 C1732.0,263.0 1750.3,263.7 1768.0,265.0 C1785.7,266.3 1795.7,267.8 1806.0,272.0 C1816.3,276.2 1826.0,287.0 1830.0,290.0" fill="none" stroke="#1a1a1a" stroke-width="3"/>
<path d="M700.0,229.0 C708.0,219.5 727.2,205.2 746.0,193.0 C764.8,180.8 790.8,165.5 813.0,156.0 C835.2,146.5 857.0,141.0 879.0,136.0 C901.0,131.0 926.7,128.5 945.0,126.0 C963.3,123.5 974.8,122.0 989.0,121.0 C1003.2,120.0 1019.5,119.2 1030.0,120.0 C1040.5,120.8 1045.0,122.2 1052.0,126.0 C1059.0,129.8 1068.5,138.0 1072.0,143.0 C1075.5,148.0 1074.2,151.0 1073.0,156.0 C1071.8,161.0 1069.7,166.8 1065.0,173.0 C1060.3,179.2 1053.8,186.3 1045.0,193.0 C1036.2,199.7 1025.8,205.8 1012.0,213.0 C998.2,220.2 978.7,229.5 962.0,236.0 C945.3,242.5 924.7,248.2 912.0,252.0 C899.3,255.8 899.8,256.2 886.0,259.0 C872.2,261.8 846.7,266.2 829.0,269.0 C811.3,271.8 796.5,275.5 780.0,276.0 C763.5,276.5 742.8,273.7 730.0,272.0 C717.2,270.3 708.3,269.7 703.0,266.0 C697.7,262.3 698.5,256.2 698.0,250.0 C697.5,243.8 692.0,238.5 700.0,229.0 Z" fill="none" stroke="#7c808a" stroke-width="6" stroke-linecap="round" stroke-dasharray="0.1,19"/>
<path d="M701.0,232.0 C701.8,242.0 704.0,276.5 706.0,292.0 C708.0,307.5 711.3,314.0 713.0,325.0 C714.7,336.0 714.3,346.8 716.0,358.0 C717.7,369.2 721.8,386.3 723.0,392.0" fill="none" stroke="#7c808a" stroke-width="6" stroke-linecap="round" stroke-dasharray="0.1,19"/>
<path d="M723.0,392.0 C724.2,397.5 728.0,416.2 730.0,425.0 C732.0,433.8 733.3,435.3 735.0,445.0 C736.7,454.7 738.0,470.2 740.0,483.0 C742.0,495.8 744.8,509.0 747.0,522.0 C749.2,535.0 751.5,548.0 753.0,561.0 C754.5,574.0 755.2,585.2 756.0,600.0 C756.8,614.8 757.2,632.7 758.0,650.0 C758.8,667.3 760.5,695.0 761.0,704.0" fill="none" stroke="#111" stroke-width="6" stroke-linecap="round" stroke-dasharray="0.1,19"/>
<path d="M1068.0,173.0 C1066.3,181.8 1060.7,210.5 1058.0,226.0 C1055.3,241.5 1054.2,255.0 1052.0,266.0 C1049.8,277.0 1047.3,282.2 1045.0,292.0 C1042.7,301.8 1040.2,311.2 1038.0,325.0 C1035.8,338.8 1033.7,361.2 1032.0,375.0 C1030.3,388.8 1028.7,402.5 1028.0,408.0" fill="none" stroke="#7c808a" stroke-width="6" stroke-linecap="round" stroke-dasharray="0.1,19"/>
<path d="M1028.0,408.0 C1027.0,413.7 1023.7,428.2 1022.0,442.0 C1020.3,455.8 1019.2,476.3 1018.0,491.0 C1016.8,505.7 1015.8,517.5 1015.0,530.0 C1014.2,542.5 1013.3,560.0 1013.0,566.0" fill="none" stroke="#111" stroke-width="6" stroke-linecap="round" stroke-dasharray="0.1,19"/>
<line x1="894" y1="186" x2="894" y2="600" stroke="#7c808a" stroke-width="4" stroke-dasharray="14,7,3,7"/>
<circle cx="697" cy="231" r="3.5" fill="#111"/><circle cx="699" cy="249" r="3.5" fill="#111"/>
<ellipse cx="869" cy="403" rx="45.5" ry="56" fill="#5c6478"/>
<path d="M846,349 L792,246" stroke="#5c6478" stroke-width="9" fill="none"/>
<path d="M776,199 L775,256 L816,236 Z" fill="#5c6478"/>
<path d="M896.0,180.0 C898.2,180.0 907.0,179.8 912.0,193.0 C917.0,206.2 922.7,236.8 926.0,259.0 C929.3,281.2 930.5,303.8 932.0,326.0 C933.5,348.2 934.2,367.2 935.0,392.0 C935.8,416.8 938.5,455.7 937.0,475.0 C935.5,494.3 930.2,501.3 926.0,508.0 C921.8,514.7 916.5,517.8 912.0,515.0 C907.5,512.2 902.3,500.5 899.0,491.0 C895.7,481.5 894.2,469.0 892.0,458.0 C889.8,447.0 885.3,438.8 886.0,425.0 C886.7,411.2 892.7,391.5 896.0,375.0 C899.3,358.5 904.3,345.3 906.0,326.0 C907.7,306.7 907.2,281.2 906.0,259.0 C904.8,236.8 900.7,206.2 899.0,193.0 C897.3,179.8 893.8,180.0 896.0,180.0 Z" fill="url(#plasma)"/>
<text transform="translate(868.3,421.7) scale(0.96,1)" text-anchor="middle" font-size="52" font-weight="bold" fill="#e8eaf0">C</text>
<ellipse cx="1019" cy="131" rx="29" ry="38.5" fill="#000"/>
<ellipse cx="985" cy="339" rx="37.5" ry="46" fill="#000"/>
<g stroke="#111" stroke-width="3" fill="none"><line x1="1040" y1="154" x2="1139" y2="259"/><line x1="1020" y1="318" x2="1139" y2="259"/><line x1="968" y1="540" x2="1139" y2="259"/><line x1="662" y1="100" x2="795" y2="142"/><line x1="590" y1="586" x2="896" y2="492"/><line x1="687" y1="971" x2="955" y2="1030"/><line x1="1853" y1="1003" x2="1990" y2="1154"/></g>
<line x1="1176" y1="873" x2="1042" y2="1026" stroke="#bbb" stroke-width="2.5"/>
<path d="M722,383 L640,414" stroke="#000" stroke-width="7" fill="none"/>
<path d="M593,435 L622,398 L649,437 Z" fill="#000"/>
<text transform="translate(638.7,648.3) scale(0.76,1)" text-anchor="middle" font-size="57" font-weight="bold" fill="#000">A</text>
<text transform="translate(805.5,588) scale(0.8,1)" text-anchor="middle" font-size="54.5" font-weight="bold" fill="#000">B</text>
<text transform="translate(1047.9,718) scale(0.8,1)" text-anchor="middle" font-size="61.5" font-weight="bold" fill="#f0f0f2">C</text>
<text transform="translate(1417.3,448.3) scale(0.76,1)" text-anchor="middle" font-size="58" font-weight="bold" fill="#f0f0f2">D</text>
<text transform="translate(1717.4,346) scale(0.8,1)" text-anchor="middle" font-size="60" font-weight="bold" fill="#f0f0f2">E</text>
<text transform="translate(1131.3,1066.5) rotate(4) scale(0.72,1)" text-anchor="middle" font-size="58.5" font-weight="bold" fill="#f0f0f2">F</text>
<text transform="translate(961.1,1457.5) scale(0.78,1)" text-anchor="middle" font-size="54" font-weight="bold" fill="#000">G</text>
<text x="440.7" y="95.4" font-size="86" textLength="213" lengthAdjust="spacingAndGlyphs" fill="#000">Fume</text>
<text x="1156" y="275.4" font-size="86" textLength="276" lengthAdjust="spacingAndGlyphs" fill="#000">Spatter</text>
<text x="29.3" y="627.9" font-size="88" textLength="546" lengthAdjust="spacingAndGlyphs" fill="#000">Plasma Plume</text>
<text x="356.8" y="979" font-size="87" textLength="306" lengthAdjust="spacingAndGlyphs" fill="#000">Keyhole</text>
<text x="1718" y="1231.9" font-size="86" textLength="577" lengthAdjust="spacingAndGlyphs" fill="#000">Solidified zone</text>
<text x="1718" y="1306.6" font-size="86" textLength="598" lengthAdjust="spacingAndGlyphs" fill="#000">(cladding layer)</text>
<text x="1239" y="665.7" font-size="88" textLength="476" lengthAdjust="spacingAndGlyphs" fill="#e6e6e8">Mushy zone</text>
<text x="1010.5" y="844.5" font-size="84" textLength="577" lengthAdjust="spacingAndGlyphs" fill="#ebebed">Molten puddle</text>
<g transform="rotate(-23.4 682 296)" font-size="52" fill="#222" text-anchor="end"><text x="681" y="233" textLength="111" lengthAdjust="spacingAndGlyphs">Laser</text><text x="681" y="296" textLength="112" lengthAdjust="spacingAndGlyphs">beam</text><text x="682" y="359" textLength="213" lengthAdjust="spacingAndGlyphs">movement</text></g>
</svg>
</body></html>
